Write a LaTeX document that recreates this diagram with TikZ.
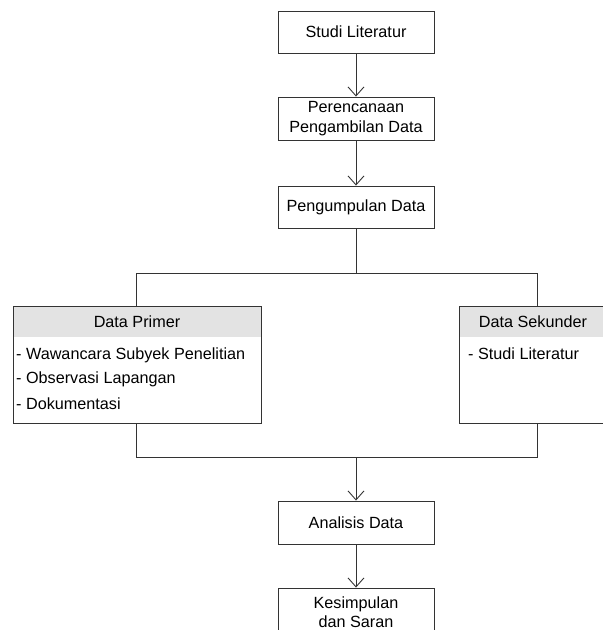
\documentclass[tikz,border=0pt]{standalone}
\usepackage{fontspec}
\setmainfont{Liberation Sans}
\usetikzlibrary{arrows.meta,backgrounds}
\begin{document}
\begin{tikzpicture}[x=1pt,y=-1pt,
  every node/.style={font=\fontsize{16.2}{19.5}\selectfont},
  box/.style={draw=black!80, line width=0.9pt, minimum width=156pt, align=center, inner sep=0pt},
  conn/.style={draw=black!80, line width=0.9pt},
  arr/.style={conn, -{Straight Barb[length=9pt,width=16pt,line width=0.9pt]}},
  item/.style={anchor=base west, inner sep=0pt},
  head/.style={anchor=base, inner sep=0pt},
]
\useasboundingbox (0,0) rectangle (603,630);
\node[box, minimum height=42pt] (s1) at (356,32) {Studi Literatur};
\node[box, minimum height=43pt] (s2) at (356,118.5) {Perencanaan\\Pengambilan Data};
\node[box, minimum height=42pt] (s3) at (356,207) {Pengumpulan Data};
\node[box, minimum width=248pt, minimum height=117pt] (pr) at (137,364.5) {};
\node[box, minimum width=148pt, minimum height=117pt] (sk) at (533,364.5) {};
\begin{scope}[on background layer]
  \fill[black!11] (pr.north west) rectangle ([yshift=-31pt]pr.north east);
  \fill[black!11] (sk.north west) rectangle ([yshift=-31pt]sk.north east);
\end{scope}
\node[head] (prh) at (137,327) {Data Primer};
\node[item] (p1) at (16,359) {- Wawancara Subyek Penelitian};
\node[item] (p2) at (16,383) {- Observasi Lapangan};
\node[item] (p3) at (16,409) {- Dokumentasi};
\node[head] (skh) at (533,327) {Data Sekunder};
\node[item] (k1) at (468,359) {- Studi Literatur};
\node[box, minimum height=43pt] (an) at (356,522.5) {Analisis Data};
\node[box, minimum height=48pt, text depth=0pt] (ks) at (356,612) {Kesimpulan\\dan Saran};
\coordinate (jt) at (356,273);
\coordinate (jl) at (136,273);
\coordinate (jr) at (537,273);
\coordinate (bl) at (136,457);
\coordinate (br) at (537,457);
\coordinate (bt) at (356,457);
\draw[arr] (s1) -- (s2);
\draw[arr] (s2) -- (s3);
\draw[conn] (s3) -- (jt);
\draw[conn] (jl) -- (jr);
\draw[conn] (jl) -- (jl |- pr.north);
\draw[conn] (jr) -- (jr |- sk.north);
\draw[conn] (pr.south -| bl) -- (bl) -- (br) -- (sk.south -| br);
\draw[arr] (bt) -- (an);
\draw[arr] (an) -- (ks.north);
\end{tikzpicture}
\end{document}
